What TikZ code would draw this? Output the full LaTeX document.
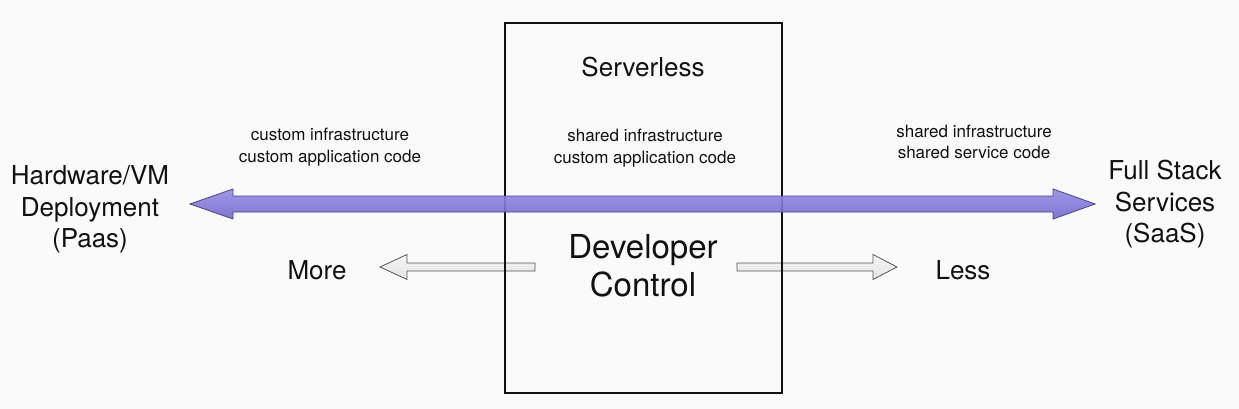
\documentclass[tikz,border=0pt]{standalone}
\usepackage{fontspec}
\setmainfont{TeX Gyre Heros}
\usetikzlibrary{calc}
\definecolor{bg}{RGB}{250,250,250}
\definecolor{ink}{RGB}{17,17,17}
\definecolor{purpTop}{RGB}{150,141,232}
\definecolor{purpBot}{RGB}{114,104,204}
\definecolor{purpLine}{RGB}{74,64,144}
\definecolor{greyTop}{RGB}{243,243,243}
\definecolor{greyBot}{RGB}{208,208,208}
\definecolor{greyLine}{RGB}{85,85,85}
\tikzset{
  biglabel/.style={align=center, inner sep=0pt, text=ink, font=\fontsize{26}{31.5}\selectfont},
  smalllabel/.style={align=center, inner sep=0pt, text=ink, font=\fontsize{17}{21.5}\selectfont},
  hugelabel/.style={align=center, inner sep=0pt, text=ink, font=\fontsize{33}{38}\selectfont},
  bigarrow/.style={draw=purpLine, line width=0.8pt, top color=purpTop, bottom color=purpBot, fill opacity=0.9, line join=miter},
  smallarrow/.style={draw=greyLine, line width=0.8pt, top color=greyTop, bottom color=greyBot, fill opacity=0.55, line join=miter},
  boxstyle/.style={draw=ink, line width=1.4pt, inner sep=0pt, minimum width=277pt, minimum height=370pt}
}
\begin{document}
\begin{tikzpicture}[x=1pt,y=-1pt]
\fill[bg] (0,0) rectangle (1239,409);
\useasboundingbox (0,0) rectangle (1239,409);

% small arrows
\coordinate (mTip) at (380,267);
\coordinate (mTail) at (535,267);
\coordinate (lTail) at (737,267);
\coordinate (lTip) at (897,267);
\draw[smallarrow] (mTip) -- ($(mTip)+(27,-12.5)$) -- ($(mTip)+(27,-4)$) -- ($(mTail)+(0,-4)$)
  -- ($(mTail)+(0,4)$) -- ($(mTip)+(27,4)$) -- ($(mTip)+(27,12.5)$) -- cycle;
\draw[smallarrow] (lTip) -- ($(lTip)+(-24,-12.5)$) -- ($(lTip)+(-24,-4)$) -- ($(lTail)+(0,-4)$)
  -- ($(lTail)+(0,4)$) -- ($(lTip)+(-24,4)$) -- ($(lTip)+(-24,12.5)$) -- cycle;

% box
\node[boxstyle] (box) at (643.5,208) {};

% big double arrow
\coordinate (L) at (190,204);
\coordinate (R) at (1095,204);
\draw[bigarrow] (L) -- ($(L)+(43,-15)$) -- ($(L)+(43,-8)$) -- ($(R)+(-42,-8)$) -- ($(R)+(-42,-15)$)
  -- (R) -- ($(R)+(-42,15)$) -- ($(R)+(-42,8)$) -- ($(L)+(43,8)$) -- ($(L)+(43,15)$) -- cycle;

% labels
\node[biglabel] (hw) at (90,209.5) {Hardware/VM\\Deployment\\(Paas)};
\node[biglabel] (fs) at (1165,204.5) {Full Stack\\Services\\(SaaS)};
\node[biglabel] (serverless) at (643,67) {Serverless};
\node[hugelabel] (dc) at (643,266) {Developer\\Control};
\node[biglabel] (more) at (317,270) {More};
\node[biglabel] (less) at (963,270) {Less};
\node[smalllabel] (tl) at (330,147) {custom infrastructure\\custom application code};
\node[smalllabel] (tm) at (645,148) {shared infrastructure\\custom application code};
\node[smalllabel] (tr) at (974,142) {shared infrastructure\\shared service code};
\end{tikzpicture}
\end{document}
